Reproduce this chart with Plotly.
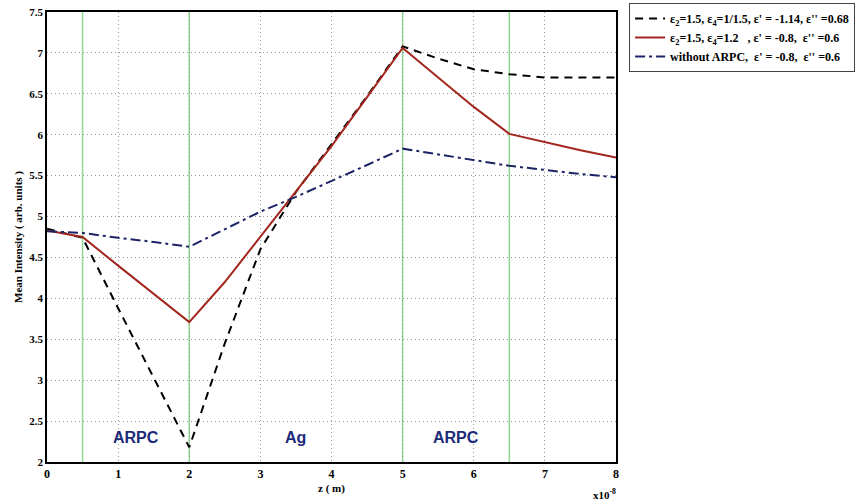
import plotly.graph_objects as go

z = [0, 0.5, 1, 1.5, 2, 2.5, 3, 3.5, 4, 4.5, 5, 5.5, 6, 6.5, 7, 7.5, 8]
dashed = [4.85, 4.74, 3.88, 3.02, 2.18, 3.45, 4.6, 5.3, 5.88, 6.47, 7.08, 6.93, 6.8, 6.74, 6.7, 6.7, 6.7]
solid = [4.83, 4.75, 4.4, 4.05, 3.71, 4.2, 4.75, 5.3, 5.86, 6.46, 7.06, 6.7, 6.34, 6.01, 5.91, 5.81, 5.72]
dashdot = [4.82, 4.8, 4.74, 4.69, 4.63, 4.85, 5.06, 5.24, 5.43, 5.63, 5.83, 5.76, 5.69, 5.62, 5.57, 5.52, 5.48]
green_x = [0.5, 2, 5, 6.5]
regions = [(1.25, "ARPC"), (3.5, "Ag"), (5.75, "ARPC")]
names = [
    "ε<sub>2</sub>=1.5, ε<sub>4</sub>=1/1.5, ε' = -1.14, ε'' =0.68",
    "ε<sub>2</sub>=1.5, ε<sub>4</sub>=1.2   , ε' = -0.8,  ε'' =0.6",
    "without ARPC,  ε' = -0.8,  ε'' =0.6",
]

fig = go.Figure()
for gx in green_x:
    fig.add_shape(type="line", x0=gx, x1=gx, y0=2, y1=7.5, xref="x", yref="y",
                  line=dict(color="#8fd88f", width=1.5), layer="below")

fig.add_trace(go.Scatter(x=z, y=dashed, mode="lines", name=names[0],
                         line=dict(color="black", width=2, dash="8px,6px")))
fig.add_trace(go.Scatter(x=z, y=solid, mode="lines", name=names[1],
                         line=dict(color="#a3261e", width=2)))
fig.add_trace(go.Scatter(x=z, y=dashdot, mode="lines", name=names[2],
                         line=dict(color="#1c2466", width=2, dash="10px,4px,3px,4px")))

for x, t in regions:
    fig.add_annotation(x=x, y=2.3, text="<b>" + t + "</b>", showarrow=False,
                       font=dict(family="Liberation Sans, Arial", size=16, color="#1c2a7a"))

fig.add_annotation(xref="paper", yref="paper", x=1.004, y=-0.07, xanchor="right", yanchor="middle",
                   text="<b>x10<sup>-8</sup></b>", showarrow=False,
                   font=dict(family="Liberation Serif", size=11, color="black"))

fig.update_layout(
    width=857, height=504,
    margin=dict(l=47, r=241, t=12, b=42, autoexpand=False),
    paper_bgcolor="white", plot_bgcolor="white",
    font=dict(family="Liberation Serif", size=11, color="black"),
    showlegend=True,
    legend=dict(x=1.023, y=1.02, xanchor="left", yanchor="top",
                bordercolor="#444", borderwidth=1, bgcolor="white",
                font=dict(family="Liberation Serif", size=12, color="black", weight="bold"),
                tracegroupgap=0, itemwidth=30),
    xaxis=dict(range=[0, 8], tickvals=list(range(0, 9)), ticks="", showgrid=True,
               gridcolor="#999", griddash="1px,3px", gridwidth=1,
               showline=True, linecolor="black", linewidth=1.5, mirror=True, zeroline=False,
               tickfont=dict(family="Liberation Serif", size=12, color="black", weight="bold"),
               title=dict(text="<b>z ( m)</b>", standoff=4, font=dict(size=11))),
    yaxis=dict(range=[2, 7.5], tickvals=[2, 2.5, 3, 3.5, 4, 4.5, 5, 5.5, 6, 6.5, 7, 7.5],
               ticktext=["2", "2.5", "3", "3.5", "4", "4.5", "5", "5.5", "6", "6.5", "7", "7.5"],
               ticks="", showgrid=True, gridcolor="#999", griddash="1px,3px", gridwidth=1,
               showline=True, linecolor="black", linewidth=1.5, mirror=True, zeroline=False,
               tickfont=dict(family="Liberation Serif", size=11, color="black", weight="bold"),
               title=dict(text="<b>Mean Intensity ( arb. units )</b>", standoff=4, font=dict(size=11))),
)
fig.write_html("out.html")
